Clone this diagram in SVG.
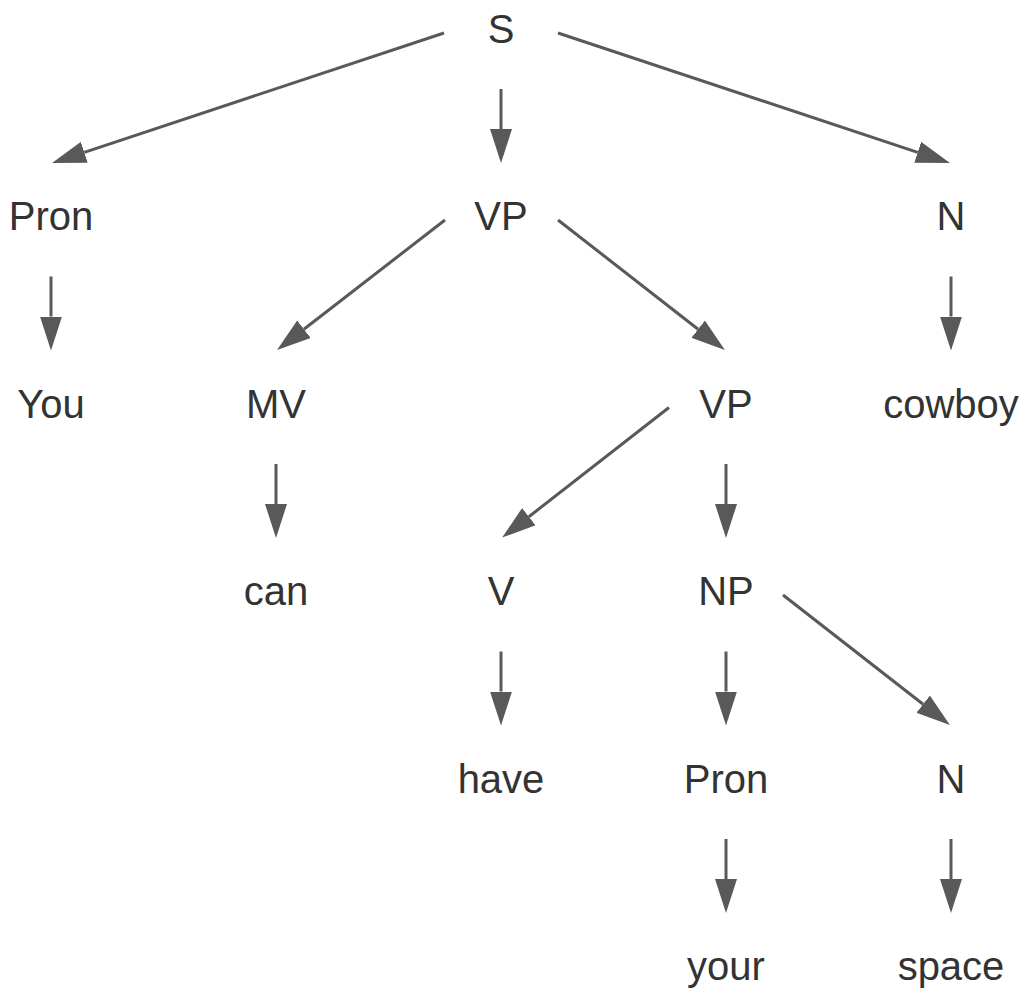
<svg xmlns="http://www.w3.org/2000/svg" width="1032" height="1000" viewBox="0 0 1032 1000">
<style>
text{font-family:"Liberation Sans",Arial,sans-serif;font-size:40px;fill:#333333;text-anchor:middle}
.e line{stroke:#595959;stroke-width:3;marker-end:url(#ah)}
</style>
<defs>
<marker id="ah" markerUnits="userSpaceOnUse" markerWidth="34" markerHeight="22" viewBox="0 0 34 22" refX="0" refY="11" orient="auto">
<path d="M0,0 L34,11 L0,22 z" fill="#595959"/>
</marker>
</defs>
<rect width="1032" height="1000" fill="#ffffff"/>
<g id="connectors" class="e">
<line x1="444" y1="33" x2="84.3" y2="152.3"/>
<line x1="501" y1="89" x2="501" y2="129"/>
<line x1="558" y1="33" x2="917.7" y2="152.3"/>
<line x1="51" y1="276.5" x2="51" y2="316.5"/>
<line x1="445" y1="220" x2="303.9" y2="329.2"/>
<line x1="558" y1="220" x2="698.1" y2="329.2"/>
<line x1="951" y1="276.5" x2="951" y2="316.5"/>
<line x1="276" y1="464" x2="276" y2="504"/>
<line x1="669" y1="407.5" x2="528.9" y2="516.7"/>
<line x1="726" y1="464" x2="726" y2="504"/>
<line x1="501" y1="651.5" x2="501" y2="691.5"/>
<line x1="726" y1="651.5" x2="726" y2="691.5"/>
<line x1="783" y1="595" x2="923.1" y2="704.2"/>
<line x1="726" y1="839" x2="726" y2="879"/>
<line x1="951" y1="839" x2="951" y2="879"/>
</g>
<g id="n-S"><text x="501" y="42.5">S</text></g>
<g id="n-Pron1"><text x="51" y="230">Pron</text></g>
<g id="n-VP1"><text x="501" y="230">VP</text></g>
<g id="n-N1"><text x="951" y="230">N</text></g>
<g id="n-You"><text x="51" y="417.5">You</text></g>
<g id="n-MV"><text x="276" y="417.5">MV</text></g>
<g id="n-VP2"><text x="726" y="417.5">VP</text></g>
<g id="n-cowboy"><text x="951" y="417.5">cowboy</text></g>
<g id="n-can"><text x="276" y="605">can</text></g>
<g id="n-V"><text x="501" y="605">V</text></g>
<g id="n-NP"><text x="726" y="605">NP</text></g>
<g id="n-have"><text x="501" y="792.5">have</text></g>
<g id="n-Pron2"><text x="726" y="792.5">Pron</text></g>
<g id="n-N2"><text x="951" y="792.5">N</text></g>
<g id="n-your"><text x="726" y="980">your</text></g>
<g id="n-space"><text x="951" y="980">space</text></g>
</svg>
